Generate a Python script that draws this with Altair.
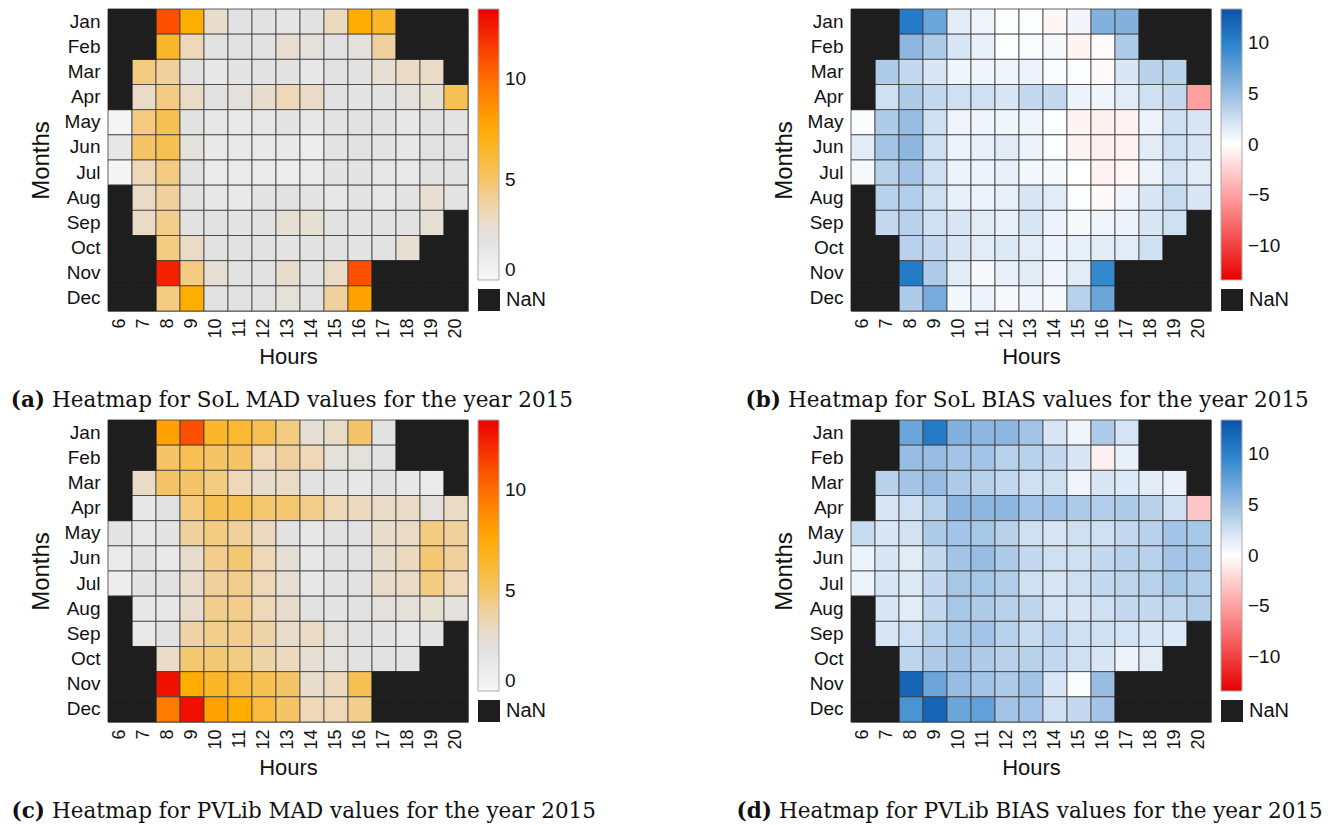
import altair as alt
import pandas as pd

months = ["Jan", "Feb", "Mar", "Apr", "May", "Jun", "Jul", "Aug", "Sep", "Oct", "Nov", "Dec"]
hours = list(range(6, 21))
N = None

# (a) SoL MAD
sol_mad = [
    [N, N, 11.0, 7.5, 2.8, 2.0, 2.0, 1.6, 2.0, 3.2, 7.5, 6.5, N, N, N],
    [N, N, 6.5, 3.5, 2.0, 2.0, 2.0, 2.6, 2.3, 2.0, 2.2, 4.0, N, N, N],
    [N, 4.5, 4.0, 2.0, 1.5, 1.8, 2.0, 2.0, 1.5, 2.0, 2.0, 2.5, 3.0, 3.0, N],
    [N, 3.0, 4.5, 3.0, 2.0, 2.2, 2.8, 3.5, 3.0, 2.0, 1.8, 2.0, 2.2, 2.5, 5.5],
    [0.3, 4.5, 5.5, 2.0, 1.5, 1.3, 1.5, 1.8, 1.5, 1.8, 2.0, 2.0, 1.5, 2.0, 1.8],
    [1.5, 5.0, 5.5, 2.2, 1.3, 1.3, 1.3, 1.3, 1.0, 1.8, 2.0, 1.8, 1.5, 2.0, 2.0],
    [0.2, 3.5, 4.5, 2.0, 1.2, 1.2, 1.2, 1.0, 1.2, 1.8, 1.8, 1.5, 1.3, 2.0, 2.0],
    [N, 3.0, 4.0, 2.0, 1.5, 1.3, 1.8, 2.0, 1.8, 1.5, 1.8, 1.5, 1.8, 2.5, 1.8],
    [N, 3.0, 4.3, 2.0, 2.0, 1.8, 2.0, 2.5, 2.5, 2.0, 1.8, 2.0, 2.0, 2.5, N],
    [N, N, 4.5, 3.0, 2.0, 2.0, 2.0, 1.8, 2.0, 2.0, 1.8, 2.0, 2.5, N, N],
    [N, N, 12.5, 4.5, 2.5, 2.0, 2.0, 2.8, 2.0, 3.0, 11.0, N, N, N, N],
    [N, N, 4.5, 7.5, 2.0, 2.0, 2.0, 2.3, 2.0, 4.0, 8.0, N, N, N, N],
]

# (b) SoL BIAS
sol_bias = [
    [N, N, 10.5, 7.0, 1.5, 0.8, 0.1, 0.2, -0.5, 0.7, 6.0, 6.0, N, N, N],
    [N, N, 5.5, 4.0, 2.0, 1.2, 0.1, 0.3, 0.5, -0.6, -0.3, 4.0, N, N, N],
    [N, 4.0, 3.0, 2.0, 0.8, 0.8, 0.8, 1.0, 0.3, 0.2, -0.3, 2.0, 3.5, 3.5, N],
    [N, 2.5, 4.0, 3.0, 2.5, 2.5, 2.0, 3.0, 3.0, 1.0, 0.8, 1.5, 2.5, 3.0, -5.0],
    [0.3, 4.0, 5.0, 2.5, 0.8, 0.8, 0.8, 0.8, 0.2, -0.6, -0.8, -0.7, 1.0, 2.5, 2.0],
    [1.5, 4.5, 5.5, 2.5, 1.0, 1.2, 1.5, 1.0, 0.2, -0.6, -0.8, -0.7, 1.5, 2.5, 2.0],
    [0.5, 3.5, 4.5, 2.5, 1.0, 1.0, 1.2, 0.6, 0.5, 0.0, -0.7, -0.5, 1.0, 2.2, 1.5],
    [N, 3.5, 3.8, 2.5, 1.2, 1.0, 1.2, 2.0, 1.5, 0.2, -0.3, 0.8, 2.0, 2.8, 2.0],
    [N, 3.0, 3.5, 2.5, 2.0, 1.5, 1.2, 2.0, 1.0, 0.5, 0.8, 1.0, 2.0, 2.5, N],
    [N, N, 3.5, 3.0, 2.0, 1.5, 1.8, 1.5, 1.0, 1.2, 1.5, 1.5, 2.5, N, N],
    [N, N, 10.5, 4.0, 1.5, 0.5, 1.2, 1.5, 0.8, 1.5, 9.5, N, N, N, N],
    [N, N, 4.0, 6.5, 0.6, 1.0, 0.5, 0.8, 0.5, 3.5, 7.0, N, N, N, N],
]

# (c) PVLib MAD
pvlib_mad = [
    [N, N, 8.0, 11.0, 6.5, 6.3, 5.5, 4.5, 2.5, 3.0, 5.0, 2.0, N, N, N],
    [N, N, 5.0, 5.5, 5.0, 5.0, 3.5, 4.0, 3.5, 2.2, 2.2, 2.0, N, N, N],
    [N, 3.0, 5.0, 5.0, 4.5, 3.5, 2.8, 3.0, 2.0, 1.8, 1.5, 2.0, 1.5, 1.2, N],
    [N, 1.5, 2.0, 4.5, 5.5, 5.5, 4.8, 4.8, 4.3, 3.5, 3.3, 3.0, 3.0, 2.2, 3.0],
    [1.8, 1.5, 1.8, 4.0, 4.5, 4.0, 3.3, 2.0, 1.5, 2.0, 2.0, 2.8, 3.0, 4.5, 4.0],
    [1.2, 1.8, 1.3, 2.8, 4.3, 4.8, 3.5, 2.5, 1.5, 2.0, 2.0, 2.8, 3.3, 4.8, 4.0],
    [1.0, 1.8, 2.0, 2.8, 4.0, 4.3, 3.5, 2.5, 1.5, 1.8, 2.0, 2.8, 3.0, 4.5, 3.5],
    [N, 1.5, 1.5, 2.8, 4.3, 4.3, 3.5, 2.8, 2.0, 1.8, 2.0, 2.2, 2.3, 2.5, 2.2],
    [N, 1.3, 2.0, 3.8, 4.3, 4.3, 3.8, 2.8, 3.0, 2.2, 2.0, 1.8, 1.5, 1.8, N],
    [N, N, 3.0, 4.8, 4.8, 4.5, 3.8, 3.3, 2.5, 2.2, 2.0, 2.0, 1.8, N, N],
    [N, N, 13.0, 7.5, 6.5, 6.0, 5.5, 5.0, 2.8, 3.3, 5.5, N, N, N, N],
    [N, N, 9.5, 13.0, 8.0, 7.5, 6.0, 5.0, 3.5, 3.5, 4.3, N, N, N, N],
]

# (d) PVLib BIAS
pvlib_bias = [
    [N, N, 7.0, 10.5, 6.0, 5.5, 5.5, 4.5, 2.0, 0.8, 4.0, 2.2, N, N, N],
    [N, N, 5.0, 5.0, 4.5, 4.5, 3.5, 3.5, 3.0, 2.0, -0.8, 1.2, N, N, N],
    [N, 3.5, 4.5, 5.0, 4.0, 3.5, 3.0, 2.5, 2.5, 0.8, 2.0, 1.8, 1.5, 1.2, N],
    [N, 2.0, 2.5, 3.5, 5.5, 5.5, 5.5, 4.5, 4.5, 4.0, 3.8, 4.0, 3.5, 2.5, -3.0],
    [2.8, 2.0, 2.3, 4.0, 4.5, 4.3, 3.5, 2.5, 2.0, 2.5, 2.5, 3.0, 3.5, 4.5, 4.3],
    [1.0, 2.0, 1.5, 3.0, 4.5, 5.0, 4.0, 3.0, 2.5, 2.5, 3.0, 3.5, 3.5, 4.5, 4.5],
    [1.0, 2.0, 1.8, 3.0, 4.3, 4.3, 3.8, 2.5, 2.0, 2.5, 3.0, 3.3, 3.5, 4.3, 3.8],
    [N, 2.0, 1.5, 3.0, 4.3, 4.0, 3.5, 3.3, 2.2, 2.0, 2.5, 3.0, 3.0, 3.3, 3.8],
    [N, 2.0, 2.5, 3.5, 4.3, 4.5, 3.5, 2.8, 3.3, 2.5, 2.5, 2.2, 2.0, 1.8, N],
    [N, N, 3.3, 4.0, 4.5, 4.0, 3.5, 3.5, 3.0, 2.5, 2.0, 1.0, 1.5, N, N],
    [N, N, 12.0, 7.0, 5.0, 4.5, 4.0, 4.5, 2.0, 0.3, 5.0, N, N, N, N],
    [N, N, 8.5, 12.0, 7.0, 7.5, 4.5, 4.5, 2.5, 3.0, 4.5, N, N, N, N],
]

letters = ["(a)", "(b)", "(c)", "(d)"]
captions = [
    "Heatmap for SoL MAD values for the year 2015",
    "Heatmap for SoL BIAS values for the year 2015",
    "Heatmap for PVLib MAD values for the year 2015",
    "Heatmap for PVLib BIAS values for the year 2015",
]

mad_domain = [0, 2, 3.5, 5, 7.5, 10.5, 13.5]
mad_colors = ["#f7f7f7", "#e2e2e2", "#eed8b8", "#f5c466", "#ffae00", "#ff6000", "#ee0000"]
mad_ticks = [0, 5, 10]
bias_domain = [-13.3, -5, 0, 2.5, 5, 10, 13.3]
bias_colors = ["#e80000", "#ffa0a0", "#ffffff", "#cfe0f2", "#98bde3", "#2a82cc", "#0a52a6"]
bias_ticks = [-10, -5, 0, 5, 10]

W, H = 360, 302
SANS = "Liberation Sans, Arial, sans-serif"
SERIF = "DejaVu Serif, serif"


def long_table(matrix):
    rows = []
    for mi, m in enumerate(months):
        for hi, h in enumerate(hours):
            rows.append({"month": m, "hour": h, "value": matrix[mi][hi]})
    return pd.DataFrame(rows)


def panel(matrix, letter, caption, domain, colors, ticks, cap_x):
    df = long_table(matrix)
    x = alt.X(
        "hour:O",
        scale=alt.Scale(domain=hours),
        axis=alt.Axis(
            title="Hours", labelAngle=270, labelFontSize=18, labelFont=SANS,
            labelPadding=7, titleFontSize=22, titleFont=SANS, titleFontWeight="normal",
            titlePadding=8,
        ),
    )
    y = alt.Y(
        "month:O",
        scale=alt.Scale(domain=months),
        axis=alt.Axis(
            title="Months", labelFontSize=19, labelFont=SANS, labelPadding=8,
            titleFontSize=24, titleFont=SANS, titleFontWeight="normal", titlePadding=11,
        ),
    )
    heat = (
        alt.Chart(df)
        .transform_filter("isValid(datum.value)")
        .mark_rect(stroke="#3a3a3a", strokeWidth=0.8)
        .encode(
            x=x,
            y=y,
            color=alt.Color(
                "value:Q",
                scale=alt.Scale(type="linear", domain=domain, range=colors, clamp=True, interpolate="rgb"),
                legend=alt.Legend(
                    title=None, orient="none", legendX=W + 10, legendY=0,
                    direction="vertical", gradientLength=271, gradientThickness=21,
                    gradientStrokeColor="#aaaaaa", gradientStrokeWidth=1,
                    values=ticks, labelFontSize=19, labelFont=SANS, labelOffset=6,
                    padding=0, labelColor="#111111",
                ),
            ),
        )
    )
    nan_layer = (
        alt.Chart(df)
        .transform_filter("!isValid(datum.value)")
        .transform_calculate(status="'NaN'")
        .mark_rect(stroke="#1e1e1e", strokeWidth=0.8)
        .encode(
            x=x,
            y=y,
            color=alt.Color(
                "status:N",
                scale=alt.Scale(domain=["NaN"], range=["#1e1e1e"]),
                legend=alt.Legend(
                    title=None, orient="none", legendX=W + 10, legendY=280,
                    symbolType="square", symbolSize=484, symbolStrokeWidth=0,
                    labelFontSize=20, labelFont=SANS, labelOffset=6, padding=0,
                    labelColor="#111111",
                ),
            ),
        )
    )
    cap_data = alt.Data(values=[{"letter": letter, "caption": caption}])
    lab = (
        alt.Chart(cap_data)
        .mark_text(font=SERIF, fontSize=21.5, fontWeight="bold", align="right", baseline="middle", color="#111111")
        .encode(text="letter:N", x=alt.value(cap_x - 7), y=alt.value(H + 90))
    )
    cap = (
        alt.Chart(cap_data)
        .mark_text(font=SERIF, fontSize=21.5, align="left", baseline="middle", color="#111111")
        .encode(text="caption:N", x=alt.value(cap_x), y=alt.value(H + 90))
    )
    return (
        alt.layer(heat, nan_layer, lab, cap)
        .resolve_scale(color="independent")
        .properties(width=W, height=H)
    )


pa = panel(sol_mad, letters[0], captions[0], mad_domain, mad_colors, mad_ticks, -56)
pb = panel(sol_bias, letters[1], captions[1], bias_domain, bias_colors, bias_ticks, -63)
pc = panel(pvlib_mad, letters[2], captions[2], mad_domain, mad_colors, mad_ticks, -56)
pd_ = panel(pvlib_bias, letters[3], captions[3], bias_domain, bias_colors, bias_ticks, -72)

chart = (
    alt.concat(pa, pb, pc, pd_, columns=2, spacing={"row": 109, "column": 383}, bounds="flush")
    .resolve_scale(color="independent", x="independent", y="independent")
    .properties(padding={"left": 2, "top": 0, "right": 0, "bottom": 0})
    .configure_view(stroke="#9a9a9a", strokeWidth=1)
    .configure_axis(domain=False, ticks=False, grid=False, labelColor="#111111", titleColor="#111111")
)

chart.save("out.html", embed_options={"renderer": "svg", "actions": False})
